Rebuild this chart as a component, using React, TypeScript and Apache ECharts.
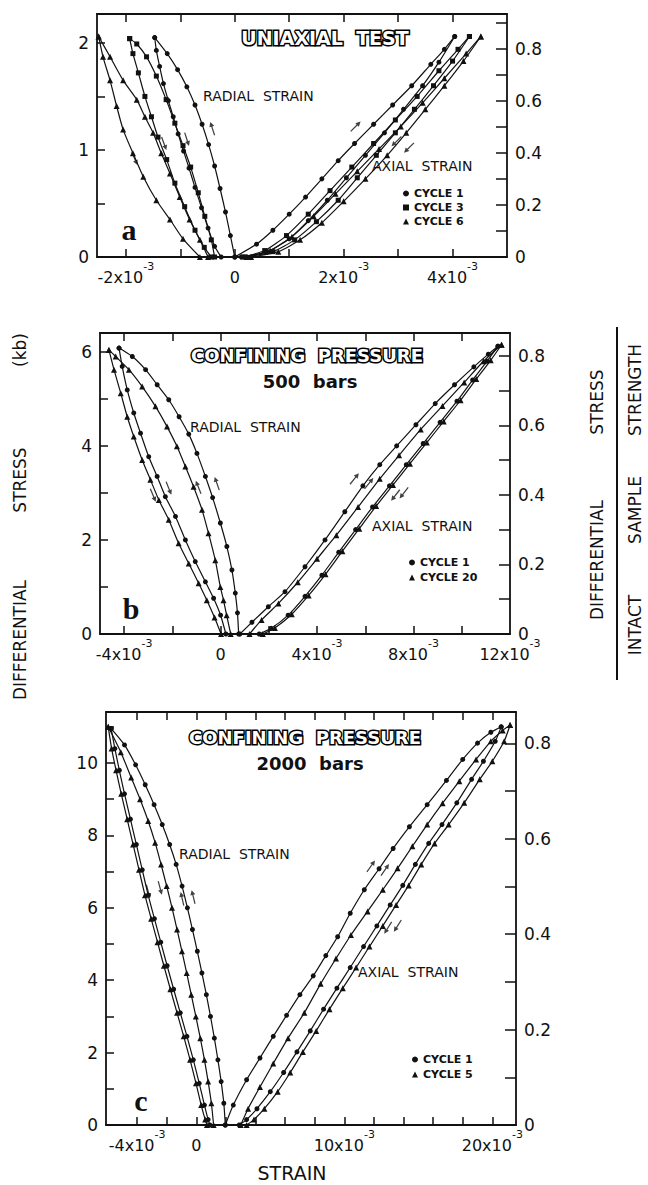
import React, { useEffect, useRef } from 'react';
import * as echarts from 'echarts';

// ---------------- Panel a : uniaxial test ----------------
const aXTicks = [-2, -1, 0, 1, 2, 3, 4];
const aXLabels = [-2, 0, 2, 4];
const aYTicks = [0, 0.5, 1, 1.5, 2];
const aYLabels = [0, 1, 2];
const aRTicks = [0, 0.1, 0.2, 0.3, 0.4, 0.5, 0.6, 0.7, 0.8, 0.9];
const rLabels = [0, 0.2, 0.4, 0.6, 0.8];

const aRad1Load = [[0,0],[-0.08,0.2],[-0.17,0.42],[-0.27,0.64],[-0.37,0.85],[-0.48,1.05],[-0.6,1.24],[-0.73,1.42],[-0.88,1.59],[-1.05,1.75],[-1.24,1.9],[-1.47,2.05]];
const aRad1Unload = [[-1.47,2.05],[-1.44,1.93],[-1.38,1.78],[-1.31,1.62],[-1.22,1.46],[-1.13,1.31],[-1.04,1.15],[-0.94,0.99],[-0.84,0.83],[-0.73,0.65],[-0.61,0.46],[-0.49,0.27],[-0.37,0.1],[-0.25,0]];
const aRad3Load = [[-0.37,0],[-0.43,0.16],[-0.55,0.38],[-0.67,0.6],[-0.81,0.84],[-0.95,1.04],[-1.1,1.25],[-1.26,1.47],[-1.44,1.69],[-1.62,1.87],[-1.8,1.99],[-1.93,2.04]];
const aRad3Unload = [[-1.93,2.04],[-1.87,1.9],[-1.77,1.72],[-1.65,1.5],[-1.53,1.31],[-1.41,1.12],[-1.25,0.91],[-1.1,0.69],[-0.92,0.47],[-0.73,0.25],[-0.56,0.09],[-0.43,0]];
const aRad6Load = [[-0.49,0],[-0.64,0.16],[-0.83,0.35],[-1.01,0.56],[-1.19,0.78],[-1.35,0.97],[-1.5,1.16],[-1.65,1.31],[-1.8,1.47],[-2.05,1.65],[-2.29,1.87],[-2.5,2.06]];
const aRad6Unload = [[-2.5,2.06],[-2.42,1.87],[-2.29,1.65],[-2.17,1.41],[-2.05,1.19],[-1.87,0.97],[-1.68,0.75],[-1.44,0.53],[-1.19,0.35],[-0.95,0.17],[-0.64,0]];

const aAx1Load = [[0,0],[0.4,0.12],[0.7,0.25],[1.0,0.4],[1.3,0.56],[1.6,0.73],[1.9,0.9],[2.2,1.06],[2.55,1.24],[2.9,1.42],[3.25,1.6],[3.6,1.8],[3.85,1.94],[4.04,2.06]];
const aAx1Unload = [[4.04,2.06],[3.75,1.82],[3.45,1.6],[3.1,1.38],[2.75,1.16],[2.4,0.95],[2.05,0.74],[1.7,0.53],[1.35,0.34],[1.0,0.17],[0.6,0.05],[0.12,0]];
const aAx3Load = [[0.15,0],[0.55,0.06],[0.95,0.2],[1.35,0.4],[1.75,0.62],[2.15,0.84],[2.55,1.06],[2.95,1.28],[3.35,1.5],[3.75,1.74],[4.1,1.94],[4.31,2.06]];
const aAx3Unload = [[4.31,2.06],[4.0,1.83],[3.65,1.6],[3.3,1.38],[2.95,1.16],[2.6,0.95],[2.25,0.74],[1.9,0.53],[1.5,0.33],[1.1,0.16],[0.7,0.05],[0.2,0]];
const aAx6Load = [[0.22,0],[0.65,0.06],[1.05,0.19],[1.45,0.38],[1.85,0.59],[2.25,0.8],[2.65,1.01],[3.05,1.22],[3.45,1.44],[3.85,1.67],[4.25,1.9],[4.52,2.06]];
const aAx6Unload = [[4.52,2.06],[4.2,1.83],[3.85,1.6],[3.5,1.38],[3.15,1.16],[2.8,0.95],[2.4,0.73],[2.0,0.52],[1.6,0.32],[1.2,0.16],[0.8,0.05],[0.3,0]];
// direction arrows: [strain, stress, rotation in degrees]
const aArrows = [[-0.41,1.2,18],[-0.88,1.1,198],[-1.3,1.06,200],[-1.84,0.92,204],[2.22,1.22,-45],[2.97,1.08,135],[3.2,1.02,135]];

// ---------------- Panel b : 500 bars ----------------
const bXTicks = [-4, -2, 0, 2, 4, 6, 8, 10];
const bXLabels = [-4, 0, 4, 8, 12];
const bYTicks = [0, 1, 2, 3, 4, 5, 6];
const bYLabels = [0, 2, 4, 6];
const bRTicks = [0, 0.1, 0.2, 0.3, 0.4, 0.5, 0.6, 0.7, 0.8];

const bRad1Load = [[0.75,0],[0.7,0.45],[0.61,0.87],[0.47,1.36],[0.26,1.86],[-0.01,2.36],[-0.33,2.9],[-0.63,3.35],[-0.98,3.84],[-1.32,4.25],[-1.72,4.62],[-2.15,4.98],[-2.63,5.3],[-3.11,5.62],[-3.66,5.9],[-4.21,6.08]];
const bRad1Unload = [[-4.21,6.08],[-4.08,5.69],[-3.87,5.19],[-3.6,4.7],[-3.32,4.27],[-2.98,3.77],[-2.63,3.35],[-2.29,2.92],[-1.87,2.5],[-1.46,2.0],[-1.05,1.54],[-0.63,1.11],[-0.29,0.76],[0.0,0.4],[0.22,0]];
const bRad20Load = [[0.42,0],[0.25,0.4],[0.12,0.72],[-0.01,1.0],[-0.22,1.57],[-0.5,2.14],[-0.77,2.64],[-1.12,3.13],[-1.46,3.56],[-1.81,3.99],[-2.22,4.41],[-2.7,4.84],[-3.25,5.26],[-3.8,5.62],[-4.35,5.9],[-4.63,6.04]];
const bRad20Unload = [[-4.63,6.04],[-4.42,5.62],[-4.14,5.12],[-3.87,4.62],[-3.6,4.2],[-3.25,3.7],[-2.91,3.28],[-2.56,2.85],[-2.15,2.43],[-1.74,1.93],[-1.32,1.5],[-0.91,1.08],[-0.57,0.72],[-0.25,0.35],[0.02,0]];

const bAx1Load = [[0.8,0],[1.3,0.25],[1.98,0.58],[2.67,0.9],[3.5,1.43],[4.33,2.0],[5.15,2.6],[5.9,3.15],[6.6,3.6],[7.3,4.0],[8.1,4.45],[8.9,4.9],[9.7,5.3],[10.5,5.68],[11.1,5.95],[11.5,6.12]];
const bAx1Unload = [[11.5,6.12],[11.05,5.8],[10.45,5.4],[9.8,4.95],[9.1,4.5],[8.4,4.05],[7.7,3.6],[7.0,3.15],[6.3,2.7],[5.6,2.22],[4.9,1.74],[4.2,1.25],[3.5,0.8],[2.8,0.4],[2.1,0.12],[1.6,0]];
const bAx20Load = [[1.2,0],[1.7,0.3],[2.4,0.65],[3.2,1.1],[4.0,1.6],[4.8,2.1],[5.7,2.7],[6.6,3.3],[7.4,3.8],[8.3,4.35],[9.2,4.85],[10.1,5.35],[10.9,5.8],[11.65,6.15]];
const bAx20Unload = [[11.65,6.15],[11.2,5.82],[10.6,5.42],[9.95,4.97],[9.25,4.52],[8.55,4.07],[7.85,3.62],[7.15,3.17],[6.45,2.72],[5.75,2.24],[5.05,1.76],[4.35,1.27],[3.65,0.82],[2.95,0.42],[2.25,0.13],[1.75,0]];
const bArrows = [[-0.15,3.2,19],[-0.92,3.12,22],[-2.15,3.1,202],[-2.8,2.95,203],[5.55,3.3,-39],[6.15,3.2,-39],[7.25,2.95,142],[7.6,3.0,142]];

// ---------------- Panel c : 2000 bars ----------------
const cXTicks = [-4, -2, 0, 2, 4, 6, 8, 10, 12, 14, 16, 18, 20];
const cXLabels = [-4, 0, 10, 20];
const cYTicks = [0, 1, 2, 3, 4, 5, 6, 7, 8, 9, 10, 11];
const cYLabels = [0, 2, 4, 6, 8, 10];
const cRTicks = [0, 0.1, 0.2, 0.3, 0.4, 0.5, 0.6, 0.7, 0.8];

const cRad1Load = [[1.96,0],[1.86,0.6],[1.68,1.2],[1.46,1.8],[1.22,2.4],[0.96,3.0],[0.68,3.6],[0.38,4.2],[0.07,4.8],[-0.26,5.4],[-0.6,6.0],[-0.96,6.6],[-1.36,7.2],[-1.8,7.75],[-2.3,8.3],[-2.85,8.85],[-3.45,9.4],[-4.1,9.95],[-4.85,10.5],[-5.75,10.95]];
const cRad1Unload = [[-5.75,10.95],[-5.5,10.4],[-5.2,9.8],[-4.85,9.15],[-4.45,8.45],[-4.05,7.75],[-3.65,7.05],[-3.25,6.35],[-2.83,5.7],[-2.4,5.05],[-1.97,4.4],[-1.53,3.75],[-1.08,3.1],[-0.63,2.45],[-0.2,1.8],[0.2,1.15],[0.55,0.55],[0.8,0.15],[0.92,0]];
const cRad5Load = [[1.17,0],[1.02,0.6],[0.8,1.2],[0.55,1.8],[0.27,2.4],[-0.03,3.0],[-0.34,3.6],[-0.65,4.2],[-0.97,4.8],[-1.3,5.4],[-1.64,6.0],[-2.0,6.6],[-2.38,7.2],[-2.78,7.8],[-3.25,8.4],[-3.8,9.0],[-4.4,9.6],[-5.1,10.3],[-5.95,11.0]];
const cRad5Unload = [[-5.95,11.0],[-5.72,10.4],[-5.42,9.8],[-5.07,9.15],[-4.67,8.45],[-4.27,7.75],[-3.87,7.05],[-3.47,6.35],[-3.05,5.7],[-2.62,5.05],[-2.19,4.4],[-1.75,3.75],[-1.3,3.1],[-0.85,2.45],[-0.42,1.8],[-0.02,1.15],[0.33,0.55],[0.6,0.15],[0.72,0]];

const cAx1Load = [[1.96,0],[2.5,0.55],[3.4,1.25],[4.3,1.85],[5.2,2.45],[6.1,3.03],[7.0,3.6],[7.9,4.12],[8.75,4.68],[9.55,5.2],[10.4,5.85],[11.35,6.5],[12.35,7.08],[13.3,7.64],[14.4,8.24],[15.6,8.85],[16.9,9.52],[18.0,10.1],[19.0,10.55],[19.9,10.85],[20.6,11.0]];
const cAx1Unload = [[20.6,11.0],[20.2,10.6],[19.4,10.05],[18.6,9.55],[17.6,8.9],[16.6,8.3],[15.7,7.78],[14.8,7.2],[13.95,6.62],[13.1,6.08],[12.2,5.5],[11.3,4.93],[10.4,4.35],[9.5,3.78],[8.6,3.2],[7.7,2.6],[6.8,2.02],[5.9,1.45],[5.0,0.92],[4.1,0.45],[3.4,0.15],[2.9,0]];
const cAx5Load = [[3.0,0],[3.5,0.45],[4.3,1.05],[5.2,1.7],[6.2,2.4],[7.3,3.1],[8.4,3.9],[9.44,4.6],[10.45,5.25],[11.57,5.9],[12.6,6.5],[13.6,7.09],[14.6,7.7],[15.6,8.3],[16.64,8.89],[17.77,9.5],[18.9,10.1],[19.9,10.6],[20.7,10.9],[21.2,11.05]];
const cAx5Unload = [[21.2,11.05],[20.8,10.6],[20.0,10.05],[19.15,9.55],[18.1,8.9],[17.05,8.3],[16.1,7.78],[15.2,7.2],[14.35,6.62],[13.5,6.08],[12.6,5.5],[11.7,4.93],[10.8,4.35],[9.9,3.78],[9.0,3.2],[8.1,2.6],[7.2,2.02],[6.35,1.45],[5.5,0.92],[4.6,0.45],[3.9,0.15],[3.4,0]];
const cArrows = [[-0.2,6.3,14],[-0.95,6.25,13],[-2.45,6.55,195],[-3.25,6.45,195],[11.8,7.15,-35],[12.75,7.05,-35],[12.95,5.45,148],[13.6,5.5,148]];

const INK = '#111';
const FONT = "'DejaVu Sans', sans-serif";
const ARROW = 'path://M4,0 L8,6 L5,6 L5,17 L3,17 L3,6 L0,6 Z';

function fmtX(v: number) {
  if (Math.abs(v) < 1e-9) return '{n|0}';
  return `{n|${v}x10}{s|-3}`;
}
const richX = {
  n: { fontSize: 16, fontFamily: FONT, color: INK, lineHeight: 24, verticalAlign: 'bottom' },
  s: { fontSize: 11, fontFamily: FONT, color: INK, lineHeight: 13, verticalAlign: 'top' },
};

function xPair(grid: number, min: number, max: number, ticks: number[], labels: number[]) {
  const line = { show: true, onZero: false, lineStyle: { color: INK, width: 1.8 } };
  return [
    {
      type: 'value', gridIndex: grid, position: 'bottom', min, max,
      axisLine: line,
      axisTick: { show: true, inside: true, length: 8, customValues: ticks, lineStyle: { color: INK, width: 1.5 } },
      axisLabel: { show: true, customValues: labels, margin: 4, formatter: fmtX, rich: richX, color: INK },
      splitLine: { show: false },
    },
    {
      type: 'value', gridIndex: grid, position: 'top', min, max,
      axisLine: line,
      axisTick: { show: true, inside: true, length: 8, customValues: ticks, lineStyle: { color: INK, width: 1.5 } },
      axisLabel: { show: false },
      splitLine: { show: false },
    },
  ];
}

function yPair(grid: number, lmax: number, lt: number[], ll: number[], rmax: number, rt: number[]) {
  const line = { show: true, onZero: false, lineStyle: { color: INK, width: 1.8 } };
  return [
    {
      type: 'value', gridIndex: grid, position: 'left', min: 0, max: lmax,
      axisLine: line,
      axisTick: { show: true, inside: true, length: 8, customValues: lt, lineStyle: { color: INK, width: 1.5 } },
      axisLabel: { show: true, customValues: ll, margin: 8, fontSize: 17, fontFamily: FONT, color: INK,
        formatter: (v: number) => String(Math.round(v)) },
      splitLine: { show: false },
    },
    {
      type: 'value', gridIndex: grid, position: 'right', min: 0, max: rmax,
      axisLine: line,
      axisTick: { show: true, inside: true, length: 11, customValues: rt, lineStyle: { color: INK, width: 1.5 } },
      axisLabel: { show: true, customValues: rLabels, margin: 8, fontSize: 17, fontFamily: FONT, color: INK,
        formatter: (v: number) => (Math.abs(v) < 1e-9 ? '0' : v.toFixed(1)) },
      splitLine: { show: false },
    },
  ];
}

function ser(name: string, data: number[][], symbol: string, xi: number, yi: number) {
  return {
    type: 'line', name, data, xAxisIndex: xi, yAxisIndex: yi,
    symbol, symbolSize: symbol === 'triangle' ? 6 : 5, showSymbol: true,
    smooth: 0.2, clip: false, silent: true,
    lineStyle: { color: INK, width: 1.2 }, itemStyle: { color: INK },
    emphasis: { disabled: true },
  };
}

function arrows(data: number[][], xi: number, yi: number) {
  return {
    type: 'scatter', name: 'direction', xAxisIndex: xi, yAxisIndex: yi, silent: true,
    symbol: ARROW, symbolSize: [5, 14],
    itemStyle: { color: INK },
    emphasis: { disabled: true },
    data: data.map((d) => ({ value: [d[0], d[1]], symbolRotate: d[2] })),
  };
}

function txt(x: number, y: number, text: string, font: string, extra: any = {}) {
  return {
    type: 'text', x, y, silent: true, z: 10,
    ...extra.el,
    style: {
      text, font, fill: INK,
      align: extra.align || 'left', textAlign: extra.align || 'left',
      verticalAlign: 'middle', textVerticalAlign: 'middle',
      ...(extra.style || {}),
    },
  };
}

const TITLE = `bold 18px ${FONT}`;
const LAB = `14px ${FONT}`;
const LET = "bold 30px 'Liberation Serif', serif";
const AXT = `17px ${FONT}`;
const outline = { fill: '#fff', stroke: '#000', lineWidth: 3 };
const rot = { el: { rotation: Math.PI / 2 }, align: 'center' };

export default function App() {
  const ref = useRef<HTMLDivElement>(null);
  useEffect(() => {
    if (!ref.current) return;
    const chart = echarts.init(ref.current, undefined, { renderer: 'svg' });
    const option: any = {
      animation: false,
      backgroundColor: '#fff',
      grid: [
        { left: 97, top: 14, width: 410, height: 243, outerBoundsMode: 'none' },
        { left: 100, top: 333, width: 410, height: 301, outerBoundsMode: 'none' },
        { left: 106, top: 712, width: 410, height: 413, outerBoundsMode: 'none' },
      ],
      xAxis: [
        ...xPair(0, -2.53, 5.0, aXTicks, aXLabels),
        ...xPair(1, -5.0, 12.0, bXTicks, bXLabels),
        ...xPair(2, -6.1, 21.6, cXTicks, cXLabels),
      ],
      yAxis: [
        ...yPair(0, 2.27, aYTicks, aYLabels, 0.935, aRTicks),
        ...yPair(1, 6.4, bYTicks, bYLabels, 0.866, bRTicks),
        ...yPair(2, 11.41, cYTicks, cYLabels, 0.866, cRTicks),
      ],
      legend: [
        { left: 398, top: 183, orient: 'vertical', itemGap: 3, itemWidth: 6, itemHeight: 6,
          textStyle: { fontSize: 11, fontWeight: 'bold', fontFamily: FONT, color: INK },
          data: [{ name: 'CYCLE 1', icon: 'circle' }, { name: 'CYCLE 3', icon: 'rect' }, { name: 'CYCLE 6', icon: 'triangle' }] },
        { left: 404, top: 552, orient: 'vertical', itemGap: 4, itemWidth: 6, itemHeight: 6,
          textStyle: { fontSize: 11, fontWeight: 'bold', fontFamily: FONT, color: INK },
          data: [{ name: 'CYCLE 1', icon: 'circle' }, { name: 'CYCLE 20', icon: 'triangle' }] },
        { left: 407, top: 1049, orient: 'vertical', itemGap: 4, itemWidth: 6, itemHeight: 6,
          textStyle: { fontSize: 11, fontWeight: 'bold', fontFamily: FONT, color: INK },
          data: [{ name: 'CYCLE 1', icon: 'circle' }, { name: 'CYCLE 5', icon: 'triangle' }] },
      ],
      series: [
        ser('CYCLE 1', aRad1Load, 'circle', 0, 0),
        ser('CYCLE 1', aRad1Unload, 'circle', 0, 0),
        ser('CYCLE 3', aRad3Load, 'rect', 0, 0),
        ser('CYCLE 3', aRad3Unload, 'rect', 0, 0),
        ser('CYCLE 6', aRad6Load, 'triangle', 0, 0),
        ser('CYCLE 6', aRad6Unload, 'triangle', 0, 0),
        ser('CYCLE 1', aAx1Load, 'circle', 0, 0),
        ser('CYCLE 1', aAx1Unload, 'circle', 0, 0),
        ser('CYCLE 3', aAx3Load, 'rect', 0, 0),
        ser('CYCLE 3', aAx3Unload, 'rect', 0, 0),
        ser('CYCLE 6', aAx6Load, 'triangle', 0, 0),
        ser('CYCLE 6', aAx6Unload, 'triangle', 0, 0),
        arrows(aArrows, 0, 0),

        ser('CYCLE 1', bRad1Load, 'circle', 2, 2),
        ser('CYCLE 1', bRad1Unload, 'circle', 2, 2),
        ser('CYCLE 20', bRad20Load, 'triangle', 2, 2),
        ser('CYCLE 20', bRad20Unload, 'triangle', 2, 2),
        ser('CYCLE 1', bAx1Load, 'circle', 2, 2),
        ser('CYCLE 1', bAx1Unload, 'circle', 2, 2),
        ser('CYCLE 20', bAx20Load, 'triangle', 2, 2),
        ser('CYCLE 20', bAx20Unload, 'triangle', 2, 2),
        arrows(bArrows, 2, 2),

        ser('CYCLE 1', cRad1Load, 'circle', 4, 4),
        ser('CYCLE 1', cRad1Unload, 'circle', 4, 4),
        ser('CYCLE 5', cRad5Load, 'triangle', 4, 4),
        ser('CYCLE 5', cRad5Unload, 'triangle', 4, 4),
        ser('CYCLE 1', cAx1Load, 'circle', 4, 4),
        ser('CYCLE 1', cAx1Unload, 'circle', 4, 4),
        ser('CYCLE 5', cAx5Load, 'triangle', 4, 4),
        ser('CYCLE 5', cAx5Unload, 'triangle', 4, 4),
        arrows(cArrows, 4, 4),
      ],
      graphic: [
        txt(325, 38, 'UNIAXIAL  TEST', `bold 19px ${FONT}`, { align: 'center', style: outline }),
        txt(203, 96, 'RADIAL  STRAIN', LAB),
        txt(372, 166, 'AXIAL  STRAIN', LAB),
        txt(129, 229, 'a', LET, { align: 'center' }),

        txt(307, 355, 'CONFINING  PRESSURE', TITLE, { align: 'center', style: outline }),
        txt(310, 381, '500  bars', TITLE, { align: 'center' }),
        txt(190, 427, 'RADIAL  STRAIN', LAB),
        txt(372, 526, 'AXIAL  STRAIN', LAB),
        txt(131, 608, 'b', LET, { align: 'center' }),

        txt(305, 737, 'CONFINING  PRESSURE', TITLE, { align: 'center', style: outline }),
        txt(310, 763, '2000  bars', TITLE, { align: 'center' }),
        txt(179, 854, 'RADIAL  STRAIN', LAB),
        txt(358, 972, 'AXIAL  STRAIN', LAB),
        txt(141, 1100, 'c', LET, { align: 'center' }),

        txt(20, 640, 'DIFFERENTIAL', AXT, rot),
        txt(20, 480, 'STRESS', AXT, rot),
        txt(20, 350, '(kb)', AXT, rot),

        txt(597, 560, 'DIFFERENTIAL', AXT, rot),
        txt(597, 402, 'STRESS', AXT, rot),
        { type: 'line', silent: true, shape: { x1: 617, y1: 327, x2: 617, y2: 680 }, style: { stroke: INK, lineWidth: 2 } },
        txt(635, 625, 'INTACT', AXT, rot),
        txt(635, 510, 'SAMPLE', AXT, rot),
        txt(635, 390, 'STRENGTH', AXT, rot),

        txt(292, 1173, 'STRAIN', `19px ${FONT}`, { align: 'center' }),
      ],
    };
    chart.setOption(option);
    return () => chart.dispose();
  }, []);
  return <div ref={ref} style={{ position: 'absolute', left: 0, top: 0, width: 648, height: 1185 }} />;
}
